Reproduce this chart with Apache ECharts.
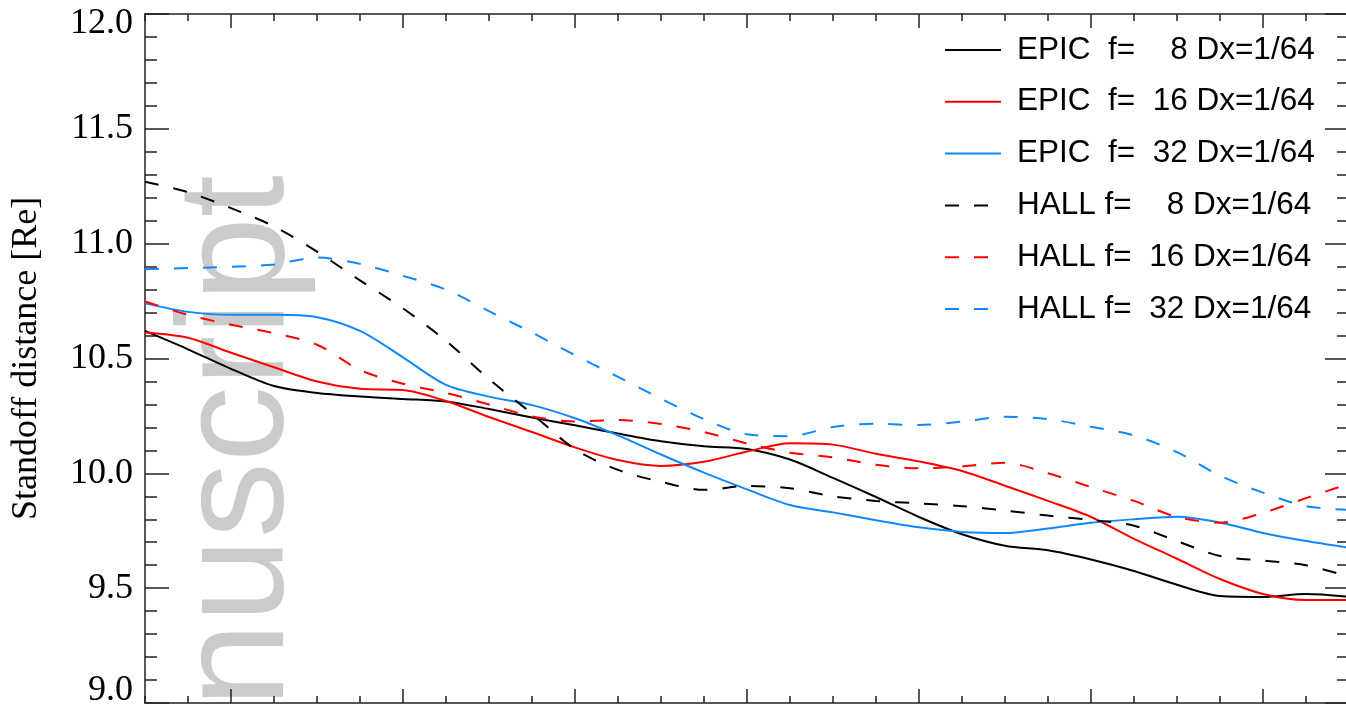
<!DOCTYPE html>
<html><head><meta charset="utf-8">
<script src="https://cdn.jsdelivr.net/npm/echarts@6/dist/echarts.min.js"></script>
<style>html,body{margin:0;padding:0;background:#fff}#c{width:1346px;height:706px}</style>
</head><body><div id="c"></div>
<script>
// ---- data ----
const xValues = [-2,-1,0,1,2,3,4,5,6,7,8,9,10,11,12,13,14,15,16,17,18,19,20,21,22,23,24,25,26];
const epic8  = [10.62,10.54,10.455,10.38,10.35,10.335,10.324,10.313,10.28,10.243,10.209,10.173,10.14,10.118,10.106,10.06,9.98,9.897,9.81,9.735,9.685,9.665,9.625,9.575,9.515,9.466,9.462,9.475,9.463];
const epic16 = [10.613,10.59,10.525,10.462,10.40,10.368,10.363,10.315,10.245,10.18,10.113,10.058,10.032,10.05,10.095,10.131,10.125,10.085,10.052,10.01,9.946,9.88,9.81,9.715,9.628,9.54,9.475,9.449,9.449];
const epic32 = [10.74,10.703,10.69,10.69,10.68,10.62,10.505,10.385,10.334,10.297,10.24,10.165,10.082,10.003,9.93,9.862,9.83,9.796,9.765,9.745,9.74,9.76,9.785,9.80,9.811,9.786,9.74,9.705,9.676];
const hall8  = [11.27,11.224,11.155,11.075,10.965,10.84,10.718,10.577,10.41,10.26,10.105,10.015,9.963,9.928,9.945,9.935,9.9,9.88,9.869,9.857,9.838,9.816,9.797,9.772,9.705,9.64,9.62,9.6,9.55];
const hall16 = [10.748,10.69,10.647,10.61,10.56,10.45,10.39,10.35,10.30,10.248,10.226,10.232,10.215,10.18,10.13,10.09,10.07,10.037,10.022,10.03,10.046,10.00,9.94,9.88,9.81,9.785,9.828,9.892,9.955];
const hall32 = [10.889,10.894,10.899,10.909,10.94,10.912,10.86,10.80,10.706,10.613,10.514,10.42,10.325,10.236,10.17,10.162,10.202,10.216,10.21,10.225,10.246,10.236,10.203,10.165,10.092,9.99,9.916,9.857,9.841];
const seriesNames = [
  'EPIC  f=  \u20078 Dx=1/64',
  'EPIC  f=  16 Dx=1/64',
  'EPIC  f=  32 Dx=1/64',
  'HALL f=  \u20078 Dx=1/64',
  'HALL f=  16 Dx=1/64',
  'HALL f=  32 Dx=1/64'
];
const xMajorTicks = [0, 4, 8, 12, 16, 20, 24];
const yAxisName = 'Standoff distance [Re]';
const watermarkText = 'Manuscript';
const yMin = 9, yMax = 12, yStep = 0.5;
const xMin = -2, xMax = 26, xMinorStep = 1;

// ---- styles ----
const colors = ['#000000', '#ff0000', '#0f87ff', '#000000', '#ff0000', '#0f87ff'];
const dashed = [false, false, false, true, true, true];
const allData = [epic8, epic16, epic32, hall8, hall16, hall32];
const axisCol = '#222';
const lineSt = {color: axisCol, width: 1.5};

function xMinorAx(pos) {
  return {
    type: 'value', position: pos, min: xMin, max: xMax, interval: xMinorStep,
    axisLine: {show: true, onZero: false, lineStyle: lineSt},
    axisTick: {show: true, inside: true, length: 7, lineStyle: lineSt},
    axisLabel: {show: false}, splitLine: {show: false}
  };
}
function xMajorAx(pos) {
  return {
    type: 'value', position: pos, min: xMin, max: xMax,
    axisLine: {show: false, onZero: false},
    axisTick: {show: true, inside: true, length: 14, lineStyle: lineSt, customValues: xMajorTicks},
    axisLabel: {show: false, customValues: xMajorTicks}, splitLine: {show: false}
  };
}
function yAx(pos, labels) {
  const a = {
    type: 'value', position: pos, min: yMin, max: yMax, interval: yStep,
    axisLine: {show: true, onZero: false, lineStyle: lineSt},
    axisTick: {show: true, inside: true, length: 24, lineStyle: lineSt},
    minorTick: {show: true, splitNumber: 5, length: 12, lineStyle: lineSt},
    splitLine: {show: false}, minorSplitLine: {show: false},
    axisLabel: {show: false}
  };
  if (labels) {
    const f = {fontFamily: '"Liberation Serif", "DejaVu Serif", serif', fontSize: 36, color: '#000'};
    a.axisLabel = Object.assign({
      show: true, margin: 12,
      formatter: function (v) {
        const s = v.toFixed(1);
        if (Math.abs(v - yMax) < 1e-9) return '{t|' + s + '}';
        if (Math.abs(v - yMin) < 1e-9) return '{b|' + s + '}';
        return s;
      },
      rich: {
        t: Object.assign({padding: [20, 0, 0, 0]}, f),
        b: Object.assign({padding: [0, 0, 24, 0]}, f)
      }
    }, f);
    a.name = yAxisName;
    a.nameLocation = 'middle';
    a.nameGap = 100;
    a.nameRotate = 90;
    a.nameTextStyle = {fontFamily: '"Liberation Serif", "DejaVu Serif", serif', fontSize: 36, color: '#000'};
  }
  return a;
}

const chart = echarts.init(document.getElementById('c'), null, {renderer: 'canvas'});
chart.setOption({
  animation: false,
  backgroundColor: '#fff',
  grid: {left: 145, top: 14, width: 1204, height: 689, containLabel: false, outerBoundsMode: 'none'},
  xAxis: [xMinorAx('bottom'), xMinorAx('top'), xMajorAx('bottom'), xMajorAx('top')],
  yAxis: [yAx('left', true), yAx('right', false)],
  legend: {
    orient: 'vertical', left: 944, top: 32, padding: 0,
    itemWidth: 56, itemHeight: 14, itemGap: 15.8,
    selectedMode: false,
    itemStyle: {opacity: 0},
    textStyle: {fontFamily: '"Liberation Sans", Arial, sans-serif', fontSize: 31.5, color: '#000', lineHeight: 36, padding: [0, 0, 0, 11]},
    data: seriesNames
  },
  graphic: [{
    type: 'text', x: 241, y: 175, rotation: Math.PI / 2, z: 0, silent: true,
    style: {
      text: watermarkText, font: '152px "Liberation Sans", Arial, sans-serif',
      fontSize: 152, fontFamily: '"Liberation Sans", Arial, sans-serif',
      fill: '#cbcbcb', align: 'right', verticalAlign: 'middle',
      textAlign: 'right', textVerticalAlign: 'middle'
    }
  }],
  series: seriesNames.map(function (name, i) {
    return {
      name: name, type: 'line', z: 3, xAxisIndex: 0, yAxisIndex: 0,
      symbol: 'none', showSymbol: false,
      smooth: 0.3,
      itemStyle: {color: colors[i]},
      lineStyle: {color: colors[i], width: 2, type: dashed[i] ? [14, 15] : 'solid'},
      data: xValues.map(function (x, k) { return [x, allData[i][k]]; })
    };
  })
});
</script>
</body></html>
